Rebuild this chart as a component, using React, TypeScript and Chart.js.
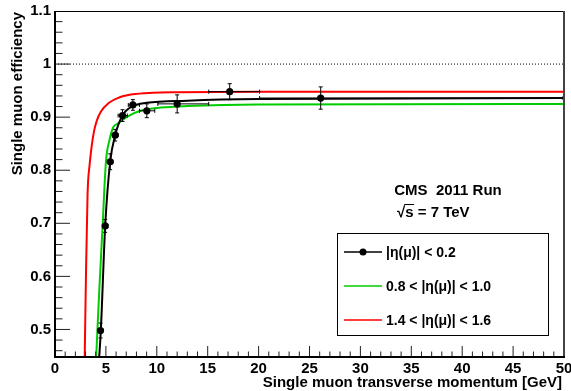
import { useEffect, useRef } from 'react';
import { Chart, registerables } from 'chart.js';
Chart.register(...registerables);

// Measured points (|eta| < 0.2)
const ptX = [4.47, 4.93, 5.42, 5.91, 6.63, 7.65, 9.02, 12.0, 17.16, 26.1];
const ptY = [0.498, 0.695, 0.816, 0.866, 0.903, 0.923, 0.912, 0.925, 0.948, 0.936];
const ptYErr = [0.014, 0.012, 0.015, 0.011, 0.011, 0.010, 0.013, 0.017, 0.015, 0.021];
const ptXLow = [4.2, 4.7, 5.2, 5.7, 6.2, 7.2, 8.3, 10.1, 15.1, 20.1];
const ptXHigh = [4.7, 5.2, 5.7, 6.2, 7.1, 8.3, 9.8, 15.1, 20.1, 50];

// Fit curves
const blackX = [4.35, 4.5, 4.93, 5.42, 5.91, 6.63, 7.65, 9.0, 13, 20, 50];
const blackY = [0.45, 0.497, 0.695, 0.816, 0.866, 0.903, 0.921, 0.927, 0.931, 0.934, 0.936];
const greenX = [4.05, 4.35, 4.67, 5.0, 5.35, 5.75, 6.1, 6.5, 7.2, 8.4, 10.4, 13, 20, 50];
const greenY = [0.45, 0.574, 0.693, 0.815, 0.857, 0.882, 0.887, 0.893, 0.902, 0.912, 0.918, 0.921, 0.924, 0.925];
const redX = [2.92, 3.04, 3.2, 3.4, 3.6, 3.85, 4.1, 4.5, 5.3, 6.3, 7.6, 9.6, 12, 20, 50];
const redY = [0.45, 0.6, 0.756, 0.81, 0.845, 0.875, 0.893, 0.91, 0.927, 0.937, 0.943, 0.946, 0.947, 0.948, 0.948];
const refX = [0, 50];
const refY = [1, 1];

// Axes
const xTickValues = [0, 5, 10, 15, 20, 25, 30, 35, 40, 45, 50];
const xTickLabels = ['0', '5', '10', '15', '20', '25', '30', '35', '40', '45', '50'];
const yTickValues = [0.5, 0.6, 0.7, 0.8, 0.9, 1.0, 1.1];
const yTickLabels = ['0.5', '0.6', '0.7', '0.8', '0.9', '1', '1.1'];
const xTitle = 'Single muon transverse momentum [GeV]';
const yTitle = 'Single muon efficiency';

// Texts
const legendLabels = ['|\u03b7(\u03bc)| < 0.2', '0.8 < |\u03b7(\u03bc)| < 1.0', '1.4 < |\u03b7(\u03bc)| < 1.6'];
const legendColors = ['#000000', '#00cc00', '#ff0000'];
const cmsText = 'CMS  2011 Run';
const energyText = 's = 7 TeV';

const FONT = '"Liberation Sans", Arial, Helvetica, sans-serif';

const toXY = (xs: number[], ys: number[]) => xs.map((x, i) => ({ x, y: ys[i] }));

export default function App() {
  const ref = useRef<HTMLCanvasElement>(null);
  useEffect(() => {
    document.body.style.margin = '0';
    const canvas = ref.current!;
    const rootPlugin = {
      id: 'rootStyle',
      afterDatasetsDraw(chart: any) {
        const ctx = chart.ctx as CanvasRenderingContext2D;
        const xs = chart.scales.x;
        const ys = chart.scales.y;
        const a = chart.chartArea;
        ctx.save();
        // error bars
        ctx.strokeStyle = '#000';
        ctx.lineWidth = 1;
        for (let i = 0; i < ptX.length; i++) {
          const px = xs.getPixelForValue(ptX[i]);
          const py = ys.getPixelForValue(ptY[i]);
          const y1 = ys.getPixelForValue(ptY[i] + ptYErr[i]);
          const y2 = ys.getPixelForValue(ptY[i] - ptYErr[i]);
          const xl = xs.getPixelForValue(ptXLow[i]);
          const xh = Math.min(xs.getPixelForValue(ptXHigh[i]), a.right - 1);
          ctx.beginPath();
          ctx.moveTo(px, y1); ctx.lineTo(px, y2);
          ctx.moveTo(px - 2, y1); ctx.lineTo(px + 2, y1);
          ctx.moveTo(px - 2, y2); ctx.lineTo(px + 2, y2);
          ctx.moveTo(xl, py); ctx.lineTo(xh, py);
          ctx.moveTo(xl, py - 2); ctx.lineTo(xl, py + 2);
          ctx.moveTo(xh, py - 2); ctx.lineTo(xh, py + 2);
          ctx.stroke();
        }
        // ticks
        ctx.strokeStyle = '#222';
        ctx.lineWidth = 1;
        ctx.beginPath();
        for (let v = 1; v < 50; v++) {
          const px = xs.getPixelForValue(v);
          const len = v % 5 === 0 ? 10 : 4.5;
          ctx.moveTo(px, a.bottom); ctx.lineTo(px, a.bottom - len);
        }
        for (let k = 1; k < 33; k++) {
          const v = 0.45 + k * 0.02 - 0.01 + 0.01; // 0.46 ... 1.09
          const val = 0.46 + (k - 1) * 0.02;
          if (val >= 1.099) break;
          const py = ys.getPixelForValue(val);
          const major = Math.abs(val * 10 - Math.round(val * 10)) < 1e-6;
          const len = major ? 15 : 7.5;
          ctx.moveTo(a.left, py); ctx.lineTo(a.left + len, py);
          void v;
        }
        ctx.stroke();
        // frame
        ctx.strokeStyle = '#000';
        ctx.lineWidth = 1;
        ctx.beginPath();
        ctx.moveTo(a.left, a.top + 0.5); ctx.lineTo(a.right, a.top + 0.5);
        ctx.stroke();
        ctx.strokeStyle = '#444';
        ctx.lineWidth = 2;
        ctx.beginPath();
        ctx.moveTo(a.right, a.top); ctx.lineTo(a.right, a.bottom);
        ctx.stroke();
        ctx.strokeStyle = '#000';
        ctx.lineWidth = 2;
        ctx.beginPath();
        ctx.moveTo(a.left, a.top); ctx.lineTo(a.left, a.bottom + 1); ctx.lineTo(a.right + 1, a.bottom + 1);
        ctx.stroke();

        // axis titles
        ctx.fillStyle = '#000';
        ctx.font = `bold 15px ${FONT}`;
        ctx.textAlign = 'right';
        ctx.textBaseline = 'middle';
        ctx.fillText(xTitle, a.right - 2, 383);
        ctx.save();
        ctx.translate(18, a.top + 1);
        ctx.rotate(-Math.PI / 2);
        ctx.fillText(yTitle, 0, 0);
        ctx.restore();

        // annotation
        ctx.textAlign = 'center';
        ctx.fillText(cmsText, 448, 191);
        ctx.textAlign = 'left';
        const sqrtW = ctx.measureText('\u221a').width;
        ctx.fillText('\u221a', 397, 213);
        ctx.fillText(energyText, 397 + sqrtW, 213);
        const sW = ctx.measureText('s').width;
        ctx.lineWidth = 1;
        ctx.beginPath();
        ctx.moveTo(397 + sqrtW - 1, 204.5);
        ctx.lineTo(397 + sqrtW + sW + 0.5, 204.5);
        ctx.stroke();

        // legend
        ctx.lineWidth = 1;
        ctx.strokeStyle = '#000';
        ctx.strokeRect(337.5, 233.5, 211, 102);
        const ly = [252, 286, 320];
        ctx.font = `bold 14px ${FONT}`;
        ctx.textBaseline = 'middle';
        for (let i = 0; i < legendLabels.length; i++) {
          ctx.strokeStyle = legendColors[i];
          ctx.lineWidth = i === 0 ? 1.5 : 1.5;
          ctx.beginPath();
          ctx.moveTo(344, ly[i]); ctx.lineTo(382, ly[i]);
          ctx.stroke();
          if (i === 0) {
            ctx.fillStyle = '#000';
            ctx.beginPath();
            ctx.arc(363, ly[i], 3.5, 0, Math.PI * 2);
            ctx.fill();
          }
          ctx.fillStyle = '#000';
          ctx.fillText(legendLabels[i], 386, ly[i] + 1);
        }
        ctx.restore();
      },
    };

    const chart = new Chart(canvas, {
      type: 'scatter',
      data: {
        datasets: [
          {
            label: 'points',
            data: toXY(ptX, ptY),
            showLine: false,
            pointRadius: 3.6,
            pointBackgroundColor: '#000',
            pointBorderColor: '#000',
            pointBorderWidth: 0,
          },
          {
            label: 'fitBlack',
            data: toXY(blackX, blackY),
            showLine: true,
            borderColor: '#000',
            borderWidth: 2,
            pointRadius: 0,
            cubicInterpolationMode: 'monotone',
          },
          {
            label: 'fitGreen',
            data: toXY(greenX, greenY),
            showLine: true,
            borderColor: '#00cc00',
            borderWidth: 2,
            pointRadius: 0,
            cubicInterpolationMode: 'monotone',
          },
          {
            label: 'fitRed',
            data: toXY(redX, redY),
            showLine: true,
            borderColor: '#ff0000',
            borderWidth: 2,
            pointRadius: 0,
            cubicInterpolationMode: 'monotone',
          },
          {
            label: 'unity',
            data: toXY(refX, refY),
            showLine: true,
            borderColor: '#000',
            borderWidth: 1,
            borderDash: [1, 2],
            pointRadius: 0,
          },
        ],
      } as any,
      options: {
        animation: false,
        responsive: false,
        maintainAspectRatio: false,
        layout: { padding: { top: 11, right: 7, left: 0, bottom: 0 } },
        plugins: { legend: { display: false }, tooltip: { enabled: false } },
        scales: {
          x: {
            type: 'linear',
            min: 0,
            max: 50,
            grid: { display: false, drawTicks: false },
            border: { display: false },
            afterBuildTicks: (s: any) => { s.ticks = xTickValues.map((v) => ({ value: v })); },
            afterFit: (s: any) => { s.height = 35; s.paddingLeft = 0; s.paddingRight = 0; },
            ticks: {
              autoSkip: false,
              maxRotation: 0,
              padding: 4,
              color: '#000',
              font: { family: FONT, size: 15, weight: 'bold' },
              callback: (v: any) => { const i = xTickValues.indexOf(Number(v)); return i >= 0 ? xTickLabels[i] : ''; },
            },
          },
          y: {
            type: 'linear',
            min: 0.45,
            max: 1.1,
            grid: { display: false, drawTicks: false },
            border: { display: false },
            afterBuildTicks: (s: any) => { s.ticks = yTickValues.map((v) => ({ value: v })); },
            afterFit: (s: any) => { s.width = 55; s.paddingTop = 0; s.paddingBottom = 0; },
            ticks: {
              autoSkip: false,
              padding: 4,
              color: '#000',
              font: { family: FONT, size: 15, weight: 'bold' },
              callback: (v: any) => {
                const i = yTickValues.findIndex((t) => Math.abs(t - Number(v)) < 1e-6);
                return i >= 0 ? yTickLabels[i] : '';
              },
            },
          },
        },
      } as any,
      plugins: [rootPlugin],
    });
    return () => chart.destroy();
  }, []);

  return (
    <div style={{ position: 'absolute', left: 0, top: 0, width: 571, height: 391, background: '#fff' }}>
      <canvas ref={ref} width={571} height={391} style={{ width: 571, height: 391, display: 'block' }} />
    </div>
  );
}
